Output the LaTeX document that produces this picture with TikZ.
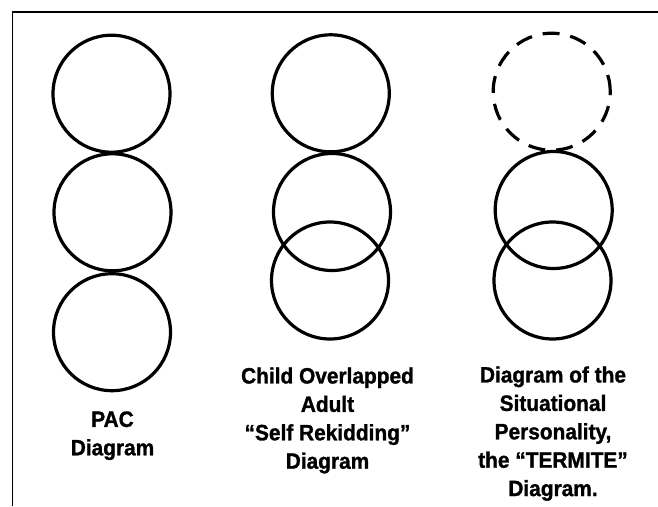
\documentclass[tikz,border=0pt]{standalone}
\usepackage{fontspec}
\setmainfont{Liberation Sans}[BoldFeatures={FakeBold=1.2,FakeStretch=0.94}]
\usepackage{tikz}

\tikzset{
  ring/.style={line width=3.2pt},
  ghostring/.style={ring, dash pattern=on 17pt off 11pt},
  frame/.style={line width=1.6pt},
  caption/.style={font=\fontsize{22.2pt}{28.4pt}\selectfont\bfseries,
    align=center, anchor=north, inner sep=0pt}
}

\begin{document}
\begin{tikzpicture}[x=1pt,y=-1pt]
\useasboundingbox (0,0) rectangle (658,506);

% frame, cut off at right and bottom
\draw[frame] (12.3,506) -- (12.3,12) -- (658,12);

% PAC diagram
\draw[ring] (111.5,93.7) circle (58.5pt);
\draw[ring] (112.5,212.3) circle (58.5pt);
\draw[ring] (112,332.2) circle (58.5pt);
\node[caption] (pac) at (112.5,411.2) {PAC\\Diagram};

% self rekidding
\draw[ring] (330.8,93.3) circle (58.5pt);
\draw[ring] (332,212) circle (58.5pt);
\draw[ring] (330,280.5) circle (58.5pt);
\node[caption] (rekid) at (327.5,367.2) {Child Overlapped\\Adult\\“Self Rekidding”\\Diagram};

% termite
\draw[ghostring] (551.7,91.7) circle (58.5pt);
\draw[ring] (553.7,210) circle (58.5pt);
\draw[ring] (552.5,280.5) circle (58.5pt);
\node[caption] (termite) at (553,366.2) {Diagram of the\\Situational\\Personality,\\the “TERMITE”\\Diagram.};
\end{tikzpicture}
\end{document}
